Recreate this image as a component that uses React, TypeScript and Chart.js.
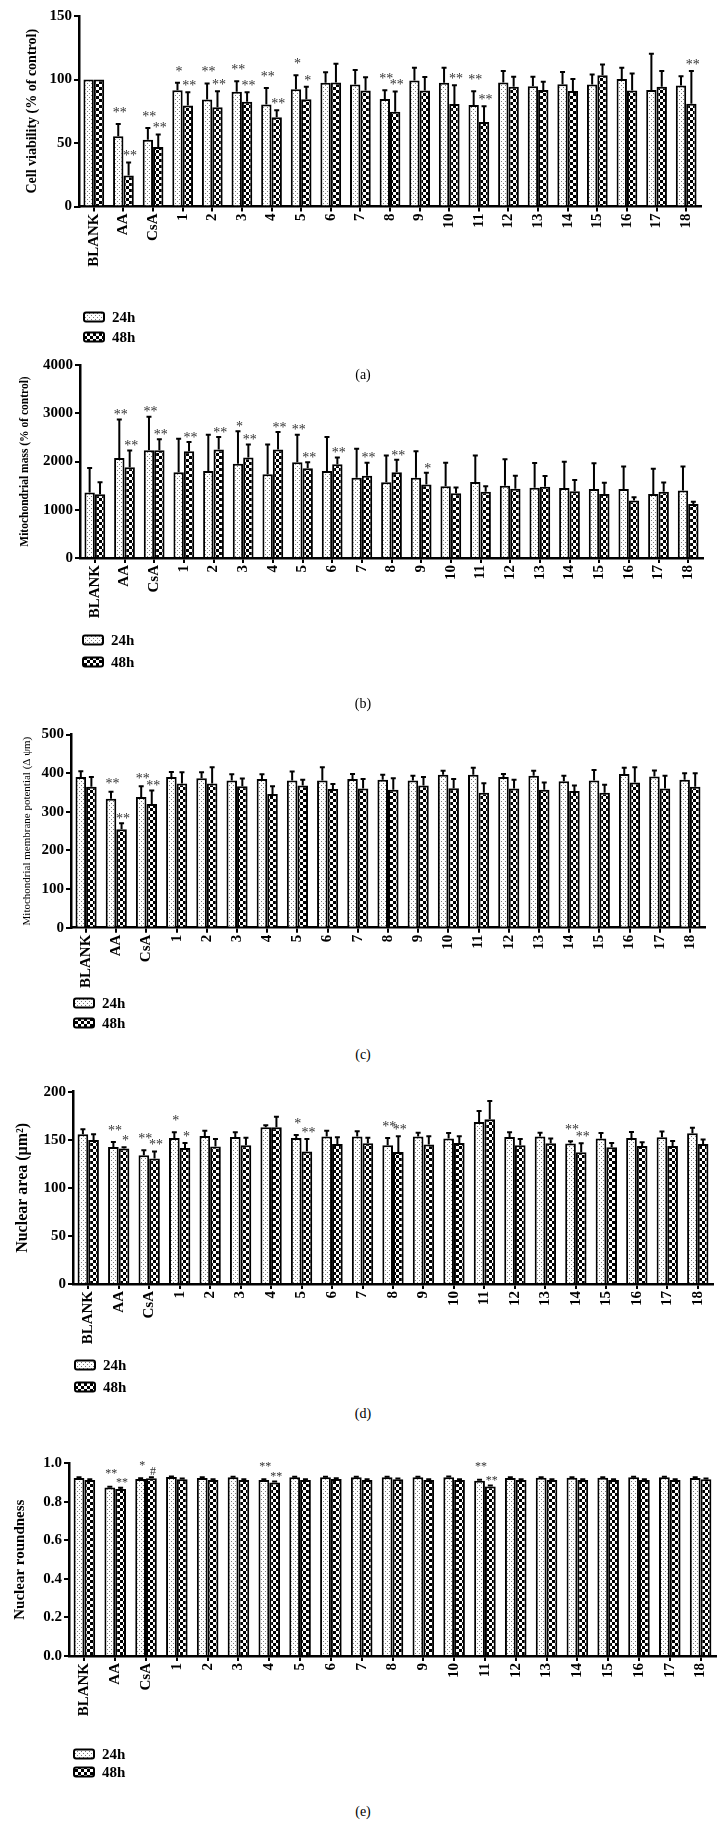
import React, { useEffect, useRef } from 'react';
import { Chart, registerables } from 'chart.js';

Chart.register(...registerables);

const categories = ['BLANK', 'AA', 'CsA', '1', '2', '3', '4', '5', '6', '7', '8', '9', '10', '11', '12', '13', '14', '15', '16', '17', '18'];
const seriesLabels = ['24h', '48h'];

// (a) Cell viability (% of control)
const viability24 = [100, 55.3, 52.6, 91.6, 84.2, 90.3, 80.3, 92.4, 97.4, 96.0, 84.7, 99.2, 97.4, 80.0, 97.6, 94.7, 96.3, 96.0, 100.3, 91.8, 95.3];
const viability24Sd = [0, 9.7, 9.2, 5.8, 12.6, 8.4, 13.1, 11.0, 8.4, 11.4, 6.9, 10.0, 11.8, 10.8, 9.0, 7.4, 9.7, 8.0, 8.9, 28.5, 7.3];
const viability48 = [100, 24.5, 46.8, 79.5, 78.2, 82.4, 70.3, 84.5, 97.6, 91.3, 74.7, 91.3, 80.8, 66.6, 94.2, 91.8, 91.0, 103.4, 91.3, 94.2, 81.0];
const viability48Sd = [0, 10.2, 9.8, 10.5, 12.6, 7.6, 5.5, 9.7, 14.8, 10.5, 15.8, 10.7, 14.7, 12.4, 7.9, 6.4, 9.3, 8.4, 13.4, 12.4, 25.6];
const viabilitySig24 = ['', '**', '**', '*', '**', '**', '**', '*', '', '', '**', '', '', '**', '', '', '', '', '', '', ''];
const viabilitySig48 = ['', '**', '**', '**', '**', '**', '**', '*', '', '', '**', '', '**', '**', '', '', '', '', '', '', '**'];
const viabilityTicks = { min: 0, max: 150, step: 50 };

// (b) Mitochondrial mass (% of control)
const mass24 = [1360, 2075, 2235, 1775, 1805, 1955, 1735, 1985, 1805, 1665, 1570, 1665, 1485, 1575, 1500, 1455, 1450, 1430, 1430, 1325, 1400];
const mass24Sd = [505, 795, 695, 695, 750, 670, 615, 570, 705, 600, 555, 545, 490, 550, 545, 515, 545, 535, 465, 525, 495];
const mass48 = [1320, 1880, 2235, 2215, 2250, 2085, 2250, 1860, 1945, 1705, 1775, 1525, 1340, 1375, 1435, 1475, 1385, 1325, 1190, 1375, 1120];
const mass48Sd = [250, 350, 225, 190, 260, 265, 360, 125, 140, 270, 260, 240, 120, 110, 270, 225, 230, 235, 70, 190, 45];
const massSig24 = ['', '**', '**', '', '', '*', '', '**', '', '', '', '', '', '', '', '', '', '', '', '', ''];
const massSig48 = ['', '**', '**', '**', '**', '**', '**', '**', '**', '**', '**', '*', '', '', '', '', '', '', '', '', ''];
const massTicks = { min: 0, max: 4000, step: 1000 };

// (c) Mitochondrial membrane potential
const mmp24 = [390, 334, 338, 390, 387, 381, 385, 381, 381, 385, 383, 381, 396, 396, 390, 393, 379, 381, 398, 391, 383];
const mmp24Sd = [15, 18, 28, 13, 15, 16, 12, 23, 34, 13, 13, 12, 10, 18, 8, 13, 14, 27, 16, 16, 17];
const mmp48 = [365, 255, 320, 373, 373, 366, 346, 368, 359, 360, 357, 368, 361, 349, 360, 357, 354, 349, 376, 360, 365];
const mmp48Sd = [25, 15, 35, 29, 42, 20, 20, 15, 13, 25, 30, 22, 24, 25, 23, 19, 14, 21, 39, 33, 35];
const mmpSig24 = ['', '**', '**', '', '', '', '', '', '', '', '', '', '', '', '', '', '', '', '', '', ''];
const mmpSig48 = ['', '**', '**', '', '', '', '', '', '', '', '', '', '', '', '', '', '', '', '', '', ''];
const mmpTicks = { min: 0, max: 500, step: 100 };

// (d) Nuclear area
const area24 = [155.7, 142.6, 133.9, 151.9, 154.0, 153.0, 163.0, 151.9, 153.3, 153.3, 144.3, 153.3, 151.2, 168.5, 153.0, 153.3, 146.0, 151.2, 151.9, 152.6, 156.7];
const area24Sd = [5.3, 5.2, 5.1, 5.9, 5.5, 4.8, 2.0, 3.1, 6.2, 5.5, 7.6, 4.1, 5.8, 11.5, 4.8, 4.1, 2.4, 5.8, 6.1, 5.9, 5.9];
const area48 = [149.8, 140.8, 130.4, 141.5, 142.9, 144.3, 163.0, 137.7, 145.7, 146.4, 137.4, 145.0, 146.7, 171.3, 144.3, 146.4, 137.0, 142.2, 143.6, 143.6, 145.7];
const area48Sd = [5.9, 1.4, 7.3, 5.2, 8.0, 7.9, 11.0, 13.2, 6.9, 5.8, 16.2, 8.6, 6.9, 19.0, 6.6, 4.8, 9.4, 4.5, 3.8, 5.2, 4.5];
const areaSig24 = ['', '**', '**', '*', '', '', '', '*', '', '', '**', '', '', '', '', '', '**', '', '', '', ''];
const areaSig48 = ['', '*', '**', '*', '', '', '', '**', '', '', '**', '', '', '', '', '', '**', '', '', '', ''];
const areaTicks = { min: 0, max: 200, step: 50 };

// (e) Nuclear roundness
const round24 = [0.924, 0.874, 0.919, 0.929, 0.924, 0.927, 0.913, 0.927, 0.927, 0.927, 0.927, 0.927, 0.927, 0.910, 0.924, 0.925, 0.925, 0.925, 0.927, 0.927, 0.924];
const round24Sd = [0.003, 0.004, 0.003, 0.003, 0.003, 0.003, 0.004, 0.003, 0.003, 0.003, 0.003, 0.003, 0.004, 0.005, 0.003, 0.003, 0.003, 0.003, 0.003, 0.003, 0.003];
const round48 = [0.913, 0.867, 0.922, 0.917, 0.913, 0.913, 0.900, 0.913, 0.919, 0.913, 0.917, 0.913, 0.913, 0.879, 0.913, 0.913, 0.913, 0.913, 0.913, 0.913, 0.917];
const round48Sd = [0.004, 0.006, 0.005, 0.004, 0.004, 0.004, 0.005, 0.004, 0.004, 0.004, 0.004, 0.004, 0.004, 0.006, 0.004, 0.004, 0.004, 0.004, 0.004, 0.004, 0.004];
const roundSig24 = ['', '**', '*', '', '', '', '**', '', '', '', '', '', '', '**', '', '', '', '', '', '', ''];
const roundSig48 = ['', '**', '#', '', '', '', '**', '', '', '', '', '', '', '**', '', '', '', '', '', '', ''];
const roundTicks = { min: 0, max: 1.0, step: 0.2 };

const SERIF = "'Liberation Serif', 'Times New Roman', serif";
const W = 726;

function dotPattern(): CanvasPattern {
  const c = document.createElement('canvas');
  c.width = 4; c.height = 4;
  const g = c.getContext('2d')!;
  g.fillStyle = '#ffffff'; g.fillRect(0, 0, 4, 4);
  g.fillStyle = '#7a7a7a';
  g.fillRect(1, 1, 1, 1); g.fillRect(3, 3, 1, 1);
  return g.createPattern(c, 'repeat')!;
}
function checkPattern(): CanvasPattern {
  const c = document.createElement('canvas');
  c.width = 6; c.height = 6;
  const g = c.getContext('2d')!;
  g.fillStyle = '#ffffff'; g.fillRect(0, 0, 6, 6);
  g.fillStyle = '#000000';
  g.fillRect(0, 0, 3, 3); g.fillRect(3, 3, 3, 3);
  return g.createPattern(c, 'repeat')!;
}

type PanelProps = {
  top: number; height: number;
  area: { left: number; right: number; top: number; bottom: number };
  v24: number[]; v48: number[]; sd24: number[]; sd48: number[];
  sig24: string[]; sig48: string[];
  ticks: { min: number; max: number; step: number };
  decimals: number;
  title: string; titleFont: { size: number; weight: string }; titleX: number;
  legendY: number[]; legendBoxX: number; legendTextX: number;
  sigFont: number; sigGap: number[];
};

function BarPanel(p: PanelProps) {
  const ref = useRef<HTMLCanvasElement | null>(null);
  useEffect(() => {
    const canvas = ref.current!;
    const patterns = [dotPattern(), checkPattern()];
    const sds = [p.sd24, p.sd48];
    const sigs = [p.sig24, p.sig48];

    const errorPlugin = {
      id: 'errorBarsInline',
      afterDatasetsDraw(chart: any) {
        const ctx = chart.ctx;
        const y = chart.scales.y;
        ctx.save();
        ctx.strokeStyle = '#000';
        ctx.lineWidth = 2;
        sds.forEach((errs, di) => {
          const meta = chart.getDatasetMeta(di);
          meta.data.forEach((el: any, i: number) => {
            const sd = errs[i];
            if (!sd) return;
            const v = chart.data.datasets[di].data[i];
            const yTop = y.getPixelForValue(v + sd);
            ctx.beginPath();
            ctx.moveTo(el.x, el.y);
            ctx.lineTo(el.x, yTop);
            ctx.moveTo(el.x - 2.5, yTop);
            ctx.lineTo(el.x + 2.5, yTop);
            ctx.stroke();
          });
        });
        // significance marks
        ctx.fillStyle = '#333';
        ctx.font = `${p.sigFont}px ${SERIF}`;
        ctx.textAlign = 'center';
        ctx.textBaseline = 'alphabetic';
        sigs.forEach((marks, di) => {
          const meta = chart.getDatasetMeta(di);
          meta.data.forEach((el: any, i: number) => {
            const m = marks[i];
            if (!m) return;
            const v = chart.data.datasets[di].data[i];
            const yTop = y.getPixelForValue(v + (sds[di][i] || 0));
            const base = yTop - (p.sigGap[di] - 0.55 * p.sigFont);
            ctx.fillText(m, el.x + 1.5, base);
          });
        });
        ctx.restore();
      },
    };

    const legendPlugin = {
      id: 'boxLegendInline',
      afterDraw(chart: any) {
        const ctx = chart.ctx;
        ctx.save();
        seriesLabels.forEach((lab, i) => {
          const yc = p.legendY[i];
          ctx.beginPath();
          (ctx as any).roundRect(p.legendBoxX, yc - 4.5, 20, 9, 2);
          ctx.fillStyle = patterns[i];
          ctx.fill();
          ctx.lineWidth = 2;
          ctx.strokeStyle = '#000';
          ctx.stroke();
          ctx.fillStyle = '#000';
          ctx.font = `bold 15px ${SERIF}`;
          ctx.textAlign = 'left';
          ctx.textBaseline = 'middle';
          ctx.fillText(lab, p.legendTextX, yc + 1);
        });
        ctx.restore();
      },
    };

    const titleLH = p.titleFont.size * 1.2;
    const chart = new Chart(canvas, {
      type: 'bar',
      data: {
        labels: categories,
        datasets: [
          { label: seriesLabels[0], data: p.v24, backgroundColor: patterns[0], borderColor: '#000', borderWidth: 2, barPercentage: 1.0, categoryPercentage: 0.7 },
          { label: seriesLabels[1], data: p.v48, backgroundColor: patterns[1], borderColor: '#000', borderWidth: 2, barPercentage: 1.0, categoryPercentage: 0.7 },
        ],
      },
      options: {
        responsive: false,
        animation: false,
        devicePixelRatio: 1,
        layout: { padding: { left: 0, top: p.area.top, right: W - p.area.right, bottom: 0 } },
        plugins: { legend: { display: false }, tooltip: { enabled: false } },
        scales: {
          x: {
            type: 'category',
            offset: true,
            grid: { display: true, drawOnChartArea: false, drawTicks: true, tickLength: 5, color: '#000', lineWidth: 2, offset: false },
            border: { display: true, color: '#000', width: 2.5 },
            ticks: { color: '#000', font: { family: SERIF, size: 15, weight: 'bold' }, minRotation: 90, maxRotation: 90, autoSkip: false, padding: 2 },
            afterFit: (s: any) => { s.height = p.height - p.area.bottom; },
          },
          y: {
            min: p.ticks.min,
            max: p.ticks.max,
            grid: { display: true, drawOnChartArea: false, drawTicks: true, tickLength: 5, color: '#000', lineWidth: 2 },
            border: { display: true, color: '#000', width: 2.5 },
            ticks: {
              stepSize: p.ticks.step,
              color: '#000',
              padding: 2,
              font: { family: SERIF, size: 15, weight: 'bold' },
              callback: (v: any) => Number(v).toFixed(p.decimals),
            },
            title: {
              display: true,
              text: p.title,
              color: '#000',
              font: { family: SERIF, size: p.titleFont.size, weight: p.titleFont.weight as any },
              padding: { top: p.titleX - titleLH / 2, bottom: 0 },
            },
            afterFit: (s: any) => { s.width = p.area.left; },
          },
        },
      },
      plugins: [errorPlugin, legendPlugin],
    } as any);
    return () => chart.destroy();
  }, []);
  return (
    <canvas
      ref={ref}
      width={W}
      height={p.height}
      style={{ position: 'absolute', left: 0, top: p.top, width: W, height: p.height }}
    />
  );
}

const captionStyle = (y: number): React.CSSProperties => ({
  position: 'absolute', left: 0, width: W, top: y - 9, height: 18, lineHeight: '18px',
  textAlign: 'center', fontFamily: SERIF, fontSize: 14, color: '#000', zIndex: 2,
});

export default function App() {
  return (
    <div style={{ position: 'absolute', left: 0, top: 0, width: W, height: 1828, background: '#fff' }}>
      <BarPanel
        top={0} height={345}
        area={{ left: 79, right: 701, top: 16, bottom: 206.5 }}
        v24={viability24} v48={viability48} sd24={viability24Sd} sd48={viability48Sd}
        sig24={viabilitySig24} sig48={viabilitySig48}
        ticks={viabilityTicks} decimals={0}
        title="Cell viability (% of control)" titleFont={{ size: 14, weight: 'bold' }} titleX={32}
        legendY={[317, 337]} legendBoxX={84} legendTextX={112}
        sigFont={14} sigGap={[15, 10]}
      />
      <BarPanel
        top={345} height={330}
        area={{ left: 80, right: 703, top: 20, bottom: 213 }}
        v24={mass24} v48={mass48} sd24={mass24Sd} sd48={mass48Sd}
        sig24={massSig24} sig48={massSig48}
        ticks={massTicks} decimals={0}
        title="Mitochondrial mass (% of control)" titleFont={{ size: 11.5, weight: 'bold' }} titleX={25}
        legendY={[295, 317]} legendBoxX={83} legendTextX={111}
        sigFont={14} sigGap={[8, 8]}
      />
      <BarPanel
        top={700} height={335}
        area={{ left: 71, right: 705, top: 34.5, bottom: 227.7 }}
        v24={mmp24} v48={mmp48} sd24={mmp24Sd} sd48={mmp48Sd}
        sig24={mmpSig24} sig48={mmpSig48}
        ticks={mmpTicks} decimals={0}
        title="Mitochondrial membrane potential (Δ ψm)" titleFont={{ size: 11, weight: 'normal' }} titleX={27}
        legendY={[303, 323]} legendBoxX={74} legendTextX={102}
        sigFont={14} sigGap={[11, 8]}
      />
      <BarPanel
        top={1065} height={335}
        area={{ left: 73, right: 713, top: 26.7, bottom: 219 }}
        v24={area24} v48={area48} sd24={area24Sd} sd48={area48Sd}
        sig24={areaSig24} sig48={areaSig48}
        ticks={areaTicks} decimals={0}
        title="Nuclear area (μm²)" titleFont={{ size: 16, weight: 'bold' }} titleX={23}
        legendY={[300, 322]} legendBoxX={75} legendTextX={103}
        sigFont={14} sigGap={[15, 10]}
      />
      <BarPanel
        top={1430} height={360}
        area={{ left: 69, right: 716, top: 33.3, bottom: 226 }}
        v24={round24} v48={round48} sd24={round24Sd} sd48={round48Sd}
        sig24={roundSig24} sig48={roundSig48}
        ticks={roundTicks} decimals={1}
        title="Nuclear roundness" titleFont={{ size: 15, weight: 'bold' }} titleX={20}
        legendY={[324, 342]} legendBoxX={74} legendTextX={102}
        sigFont={12} sigGap={[16, 8.5]}
      />
      <div style={captionStyle(375)}>(a)</div>
      <div style={captionStyle(704)}>(b)</div>
      <div style={captionStyle(1055)}>(c)</div>
      <div style={captionStyle(1414)}>(d)</div>
      <div style={captionStyle(1812)}>(e)</div>
    </div>
  );
}
